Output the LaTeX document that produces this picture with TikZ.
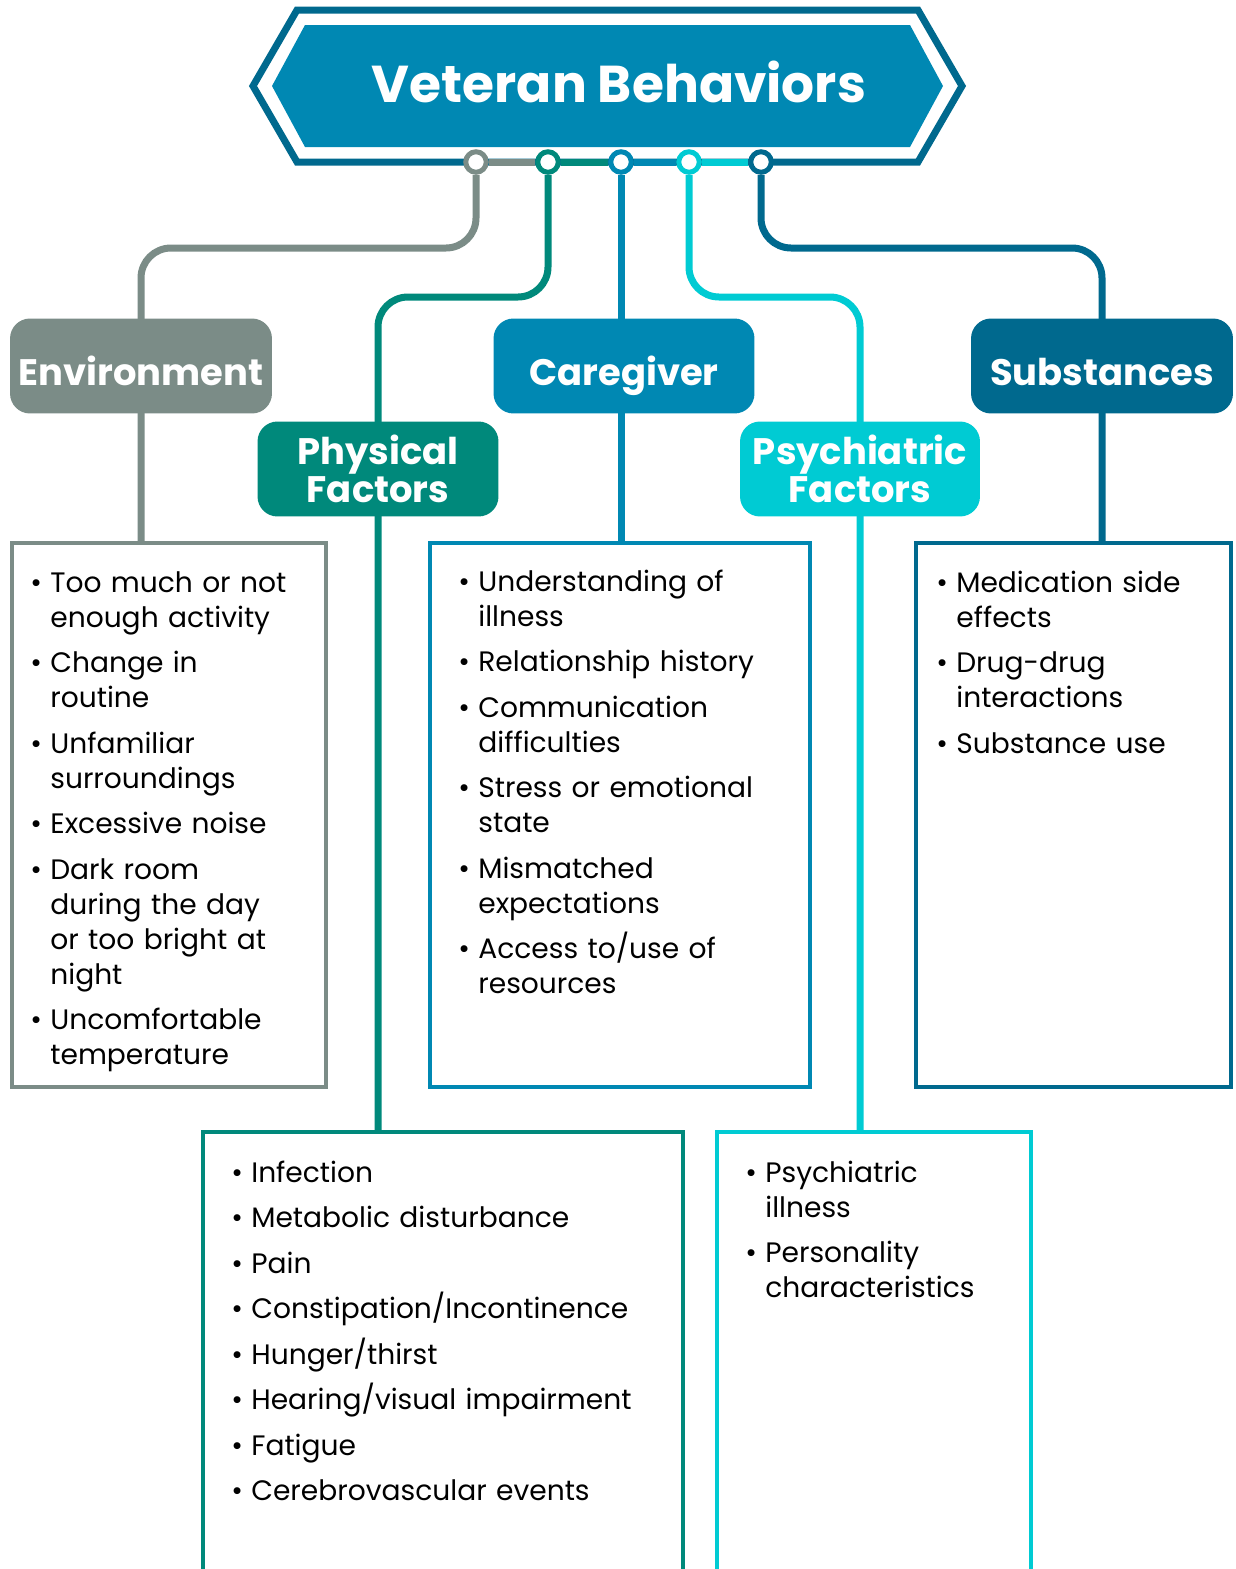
\documentclass[tikz,border=0pt]{standalone}
\usepackage{fontspec}
\setmainfont{Poppins}
\usetikzlibrary{positioning,backgrounds}
\setlength{\parskip}{0pt}
\definecolor{envgray}{HTML}{7B8C87}
\definecolor{physteal}{HTML}{00897B}
\definecolor{careblue}{HTML}{0088B3}
\definecolor{psycyan}{HTML}{00CBD3}
\definecolor{subnavy}{HTML}{00698E}
\newcommand{\listfont}{\fontsize{16}{19.92}\selectfont\lineskiplimit=-100pt\relax}
\newcommand{\itm}[1][0.21cm]{\par\vspace{#1}\noindent\hangindent=0.4cm\hangafter=1\makebox[0.4cm][l]{\strut\textbullet}}
\tikzset{
  dot/.style={circle, draw=#1, fill=white, line width=0.1cm, minimum size=0.41cm, inner sep=0pt},
  seg/.style={draw=#1, line width=0.14cm},
  conn/.style={draw=#1, line width=0.14cm, rounded corners=0.6cm},
  cat/.style={fill=#1, rounded corners=0.4cm, text=white, align=center, inner sep=0pt,
    minimum height=1.9cm, font=\fontsize{21}{21.6}\selectfont\bfseries},
  onecat/.style={cat=#1, text height=0.76cm, text depth=0pt},
  frame/.style={draw=#1, fill=white, line width=0.08cm, inner sep=0pt, outer sep=0pt, anchor=north west},
  listtxt/.style={anchor=north west, inner sep=0pt, text width=#1, align=left, font=\listfont}
}

\begin{document}
\begin{tikzpicture}[x=0.02cm,y=-0.02cm]
	\useasboundingbox (0,0) rectangle (1235,1569);
	\node[font=\fontsize{29.5}{34}\selectfont\bfseries, text=white] (head) at (619,82) {Veteran Behaviors};
	\node[dot=envgray] (c1) at (476,162) {};
	\node[dot=physteal] (c2) at (548,162) {};
	\node[dot=careblue] (c3) at (621,162) {};
	\node[dot=psycyan] (c4) at (689,162) {};
	\node[dot=subnavy] (c5) at (761,162) {};
	\node[onecat=envgray, minimum width=5.24cm] (env) at (141,366) {Environment};
	\node[cat=physteal, minimum width=4.82cm] (phys) at (378,469) {Physical\\Factors};
	\node[onecat=careblue, minimum width=5.22cm] (care) at (624,366) {Caregiver};
	\node[cat=psycyan, minimum width=4.8cm] (psy) at (860,469) {Psychiatric\\Factors};
	\node[onecat=subnavy, minimum width=5.24cm] (sub) at (1102,366) {Substances};
	\node[frame=envgray, minimum width=6.28cm, minimum height=10.88cm] (envlist) at (12,543) {};
	\node[frame=careblue, minimum width=7.6cm, minimum height=10.88cm] (carelist) at (430,543) {};
	\node[frame=subnavy, minimum width=6.3cm, minimum height=10.88cm] (sublist) at (916,543) {};
	\node[frame=physteal, minimum width=9.6cm, minimum height=10cm] (physlist) at (203,1132) {};
	\node[frame=psycyan, minimum width=6.28cm, minimum height=10cm] (psylist) at (717,1132) {};
	\node[listtxt=8cm] (envtxt) at (30,557) {%
		\itm[0pt]Too much or not\newline enough activity
		\itm Change in\newline routine
		\itm Unfamiliar\newline surroundings
		\itm Excessive noise
		\itm Dark room\newline during the day\newline or too bright at\newline night
		\itm Uncomfortable\newline temperature\par};
	\node[listtxt=8cm] (caretxt) at (458,556) {%
		\itm[0pt]Understanding of\newline illness
		\itm Relationship history
		\itm Communication\newline difficulties
		\itm Stress or emotional\newline state
		\itm Mismatched\newline expectations
		\itm Access to/use of\newline resources\par};
	\node[listtxt=8cm] (subtxt) at (936,557) {%
		\itm[0pt]Medication side\newline effects
		\itm Drug-drug\newline interactions
		\itm Substance use\par};
	\node[listtxt=10cm] (phystxt) at (231,1147) {%
		\itm[0pt]Infection
		\itm Metabolic disturbance
		\itm Pain
		\itm Constipation/Incontinence
		\itm Hunger/thirst
		\itm Hearing/visual impairment
		\itm Fatigue
		\itm Cerebrovascular events\par};
	\node[listtxt=8cm] (psytxt) at (745,1147) {%
		\itm[0pt]Psychiatric\newline illness
		\itm Personality\newline characteristics\par};
	\begin{pgfonlayer}{background}
		\draw[subnavy, line width=0.14cm] (297,10) -- (918,10) -- (962,86) -- (918,162) -- (297,162) -- (253,86) -- cycle;
		\fill[careblue] (305,25) -- (910,25) -- (943,86) -- (910,147) -- (305,147) -- (272,86) -- cycle;
		\draw[seg=envgray] (c1) -- (c2);
		\draw[seg=physteal] (c2) -- (c3);
		\draw[seg=careblue] (c3) -- (c4);
		\draw[seg=psycyan] (c4) -- (c5);
		\draw[conn=envgray] (c1) -- ++(0,86) -| (env |- envlist.north);
		\draw[conn=physteal] (c2) -- ++(0,135) -| (phys |- physlist.north);
		\draw[conn=careblue] (c3) -- (c3 |- carelist.north);
		\draw[conn=psycyan] (c4) -- ++(0,135) -| (psy |- psylist.north);
		\draw[conn=subnavy] (c5) -- ++(0,86) -| (sub |- sublist.north);
	\end{pgfonlayer}
\end{tikzpicture}
\end{document}
